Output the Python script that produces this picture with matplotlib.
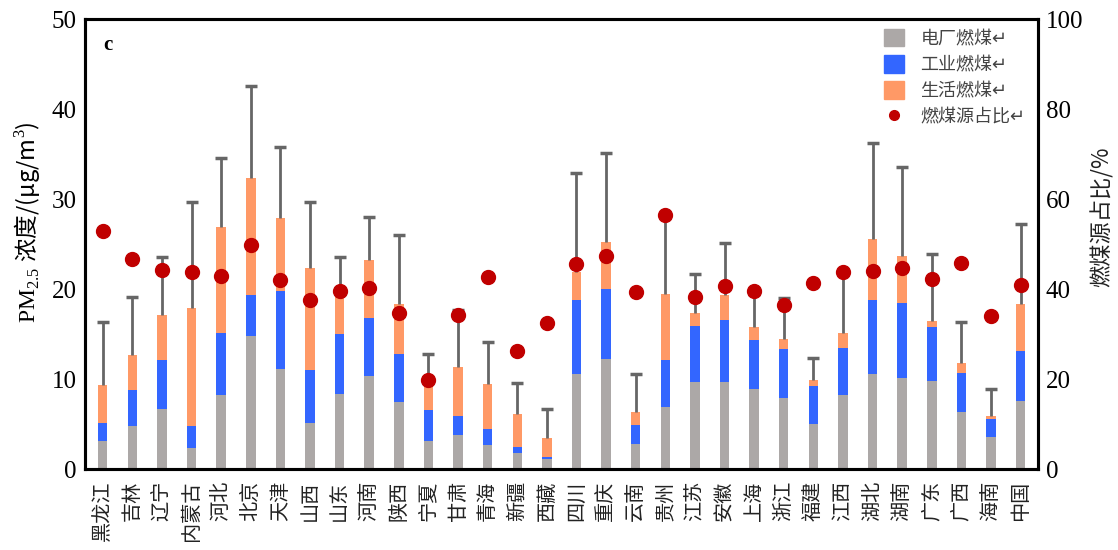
import numpy as np
import matplotlib
matplotlib.use("Agg")
import matplotlib.pyplot as plt
from matplotlib.patches import Patch
from matplotlib.lines import Line2D

plt.rcParams['font.family'] = ['Noto Sans CJK SC', 'DejaVu Sans']
plt.rcParams['mathtext.fontset'] = 'custom'
plt.rcParams['mathtext.rm'] = 'Liberation Serif'

provinces = ['黑龙江', '吉林', '辽宁', '内蒙古', '河北', '北京', '天津', '山西', '山东', '河南',
             '陕西', '宁夏', '甘肃', '青海', '新疆', '西藏', '四川', '重庆', '云南', '贵州',
             '江苏', '安徽', '上海', '浙江', '福建', '江西', '湖北', '湖南', '广东', '广西',
             '海南', '中国']

# PM2.5 contribution (ug/m3) by source
power = [3.15, 4.8, 6.7, 2.4, 8.2, 14.8, 11.1, 5.15, 8.3, 10.3,
         7.5, 3.15, 3.8, 2.7, 1.8, 1.1, 10.55, 12.2, 2.85, 6.9,
         9.7, 9.7, 8.96, 7.9, 5.0, 8.2, 10.6, 10.15, 9.8, 6.4,
         3.55, 7.6]
industry = [2.0, 4.0, 5.4, 2.4, 6.9, 4.5, 8.75, 5.85, 6.7, 6.55,
            5.3, 3.45, 2.1, 1.75, 0.7, 0.3, 8.25, 7.8, 2.05, 5.2,
            6.2, 6.9, 5.44, 5.5, 4.25, 5.3, 8.2, 8.35, 6.0, 4.3,
            2.0, 5.5]
residential = [4.2, 3.9, 5.05, 13.1, 11.8, 13.1, 8.1, 11.3, 4.5, 6.35,
               5.5, 2.9, 5.5, 5.0, 3.6, 2.1, 3.1, 5.3, 1.5, 7.4,
               1.5, 2.8, 1.4, 1.1, 0.65, 1.65, 6.8, 5.2, 0.7, 1.1,
               0.35, 5.3]
err_up = [7.0, 6.45, 6.45, 11.8, 7.7, 10.2, 7.8, 7.4, 4.1, 4.8,
          7.7, 3.3, 6.3, 4.65, 3.45, 3.2, 11.0, 9.85, 4.2, 8.9,
          4.3, 5.7, 3.7, 4.5, 2.5, 6.5, 10.6, 9.9, 7.4, 4.5,
          3.06, 8.9]
# share of coal-combustion sources (%)
coal_share = [53.0, 46.7, 44.2, 43.8, 42.9, 49.8, 42.1, 37.6, 39.6, 40.3,
              34.8, 19.8, 34.2, 42.7, 26.3, 32.4, 45.5, 47.4, 39.3, 56.4,
              38.2, 40.6, 39.5, 36.4, 41.4, 43.8, 44.0, 44.6, 42.2, 45.8,
              34.1, 41.0]

c_gray = '#aca8a7'
c_blue = '#3366ff'
c_orange = '#ff9966'
c_red = '#c00000'

x = np.arange(len(provinces))
p = np.array(power)
ind = np.array(industry)
res = np.array(residential)
total = p + ind + res

fig = plt.figure(figsize=(11.18, 5.5), dpi=100)
ax = fig.add_axes([0.076, 0.147, 0.852, 0.818])
w = 0.32
ax.bar(x, p, w, color=c_gray, zorder=2)
ax.bar(x, ind, w, bottom=p, color=c_blue, zorder=2)
ax.bar(x, res, w, bottom=p + ind, color=c_orange, zorder=2)
eb = ax.errorbar(x, total, yerr=[np.zeros_like(total), np.array(err_up)], fmt='none',
                 ecolor='#666666', elinewidth=2, capsize=4.5, capthick=2.5, zorder=3)
eb[1][0].set_visible(False)  # no cap at the bar top

ax.set_xlim(-0.6, 31.57)
ax.set_ylim(0, 50)
ax.set_yticks(np.arange(0, 51, 10))
ax.set_xticks(x)
ax.set_xticklabels(provinces, rotation=90, fontsize=14.5, va='top', ha='center',
                   color='#222222')
for t in ax.get_yticklabels():
    t.set_family('Liberation Serif')
    t.set_fontsize(18)
ax.tick_params(length=0, pad=6)
ax.tick_params(axis='x', pad=8)
for s in ax.spines.values():
    s.set_linewidth(2.2)
ax.set_ylabel(r'$\mathrm{PM}_{2.5}$ 浓度/(μg/m$^{3}$)', fontsize=17)
ax.yaxis.set_label_coords(-0.045, 0.55)

ax.text(0.019, 0.942, 'c', transform=ax.transAxes, fontsize=15, fontweight='bold',
        family='Liberation Serif', va='center', ha='left')

ax2 = ax.twinx()
ax2.scatter(x, coal_share, s=100, color=c_red, zorder=4)
ax2.set_ylim(0, 100)
ax2.set_yticks(np.arange(0, 101, 20))
for t in ax2.get_yticklabels():
    t.set_family('Liberation Serif')
    t.set_fontsize(18)
ax2.tick_params(length=0, pad=6)
ax2.set_ylabel('燃煤源占比/%', fontsize=16, color='#222222')
ax2.yaxis.set_label_coords(1.056, 0.56)
for s in ax2.spines.values():
    s.set_linewidth(2.2)

handles = [Patch(color=c_gray), Patch(color=c_blue), Patch(color=c_orange),
           Line2D([], [], marker='o', ls='none', color=c_red, markersize=7)]
labels = ['电厂燃煤↵', '工业燃煤↵', '生活燃煤↵', '燃煤源占比↵']
leg = ax2.legend(handles, labels, loc='upper left', bbox_to_anchor=(0.839, 0.978),
                 frameon=False, fontsize=13, handlelength=1.1, handleheight=1.1,
                 handletextpad=0.9, labelspacing=0.4, borderpad=0, borderaxespad=0)
for t in leg.get_texts():
    t.set_color('#444444')

fig.savefig('out.png', dpi=100)
